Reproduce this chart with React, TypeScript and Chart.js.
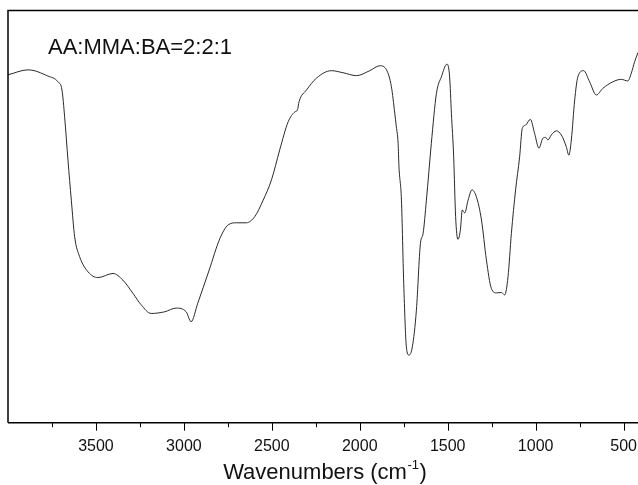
import React, { useEffect, useRef } from 'react';
import { Chart, registerables } from 'chart.js';

Chart.register(...registerables);

const wavenumbers = [
  4000, 3886, 3773, 3716, 3693, 3678, 3659, 3640, 3621, 3593, 3545, 3489, 3403, 3347, 3290, 3243,
  3186, 3110, 3044, 2987, 2959, 2921, 2858, 2795, 2748, 2701, 2644, 2597, 2549, 2502, 2455, 2407,
  2369, 2354, 2345, 2303, 2246, 2161, 2095, 2019, 1943, 1886, 1848, 1820, 1801, 1792, 1782, 1777,
  1763, 1750, 1735, 1720, 1701, 1678, 1655, 1640, 1621, 1593, 1564, 1536, 1504, 1489, 1479, 1466,
  1455, 1442, 1428, 1417, 1403, 1384, 1362, 1337, 1308, 1280, 1252, 1223, 1195, 1176, 1157, 1138,
  1114, 1091, 1076, 1057, 1030, 1006, 981, 959, 943, 930, 911, 882, 854, 826, 811, 797,
  778, 760, 727, 693, 655, 618, 561, 513, 476, 456, 437, 418,
];

const transmittance = [
  84.4, 85.6, 84.1, 82.7, 80.7, 74.2, 63.7, 54.0, 45.1, 40.3, 36.6, 35.2, 36.2, 34.6, 31.4, 28.6,
  26.5, 26.9, 27.8, 26.9, 24.5, 29.0, 36.8, 44.7, 48.0, 48.5, 48.5, 50.0, 54.0, 58.9, 66.2, 73.0,
  75.4, 75.9, 77.9, 80.7, 83.6, 85.4, 84.9, 84.2, 85.4, 86.6, 85.6, 81.5, 75.1, 71.8, 67.8, 62.1,
  54.0, 33.8, 18.4, 16.4, 18.4, 27.3, 43.5, 45.9, 54.0, 67.8, 79.9, 83.9, 87.0, 83.9, 75.1, 64.5,
  50.0, 44.5, 46.7, 51.6, 50.9, 54.0, 56.5, 54.8, 49.2, 39.5, 32.6, 31.5, 31.6, 31.0, 35.4, 45.9,
  56.5, 64.5, 71.4, 72.2, 73.6, 70.2, 66.6, 69.0, 69.2, 68.6, 69.8, 70.8, 69.8, 67.0, 64.9, 68.6,
  78.3, 83.9, 85.4, 82.7, 79.5, 81.1, 82.7, 83.3, 82.9, 84.8, 87.6, 89.8,
];

const majorTicks = [3500, 3000, 2500, 2000, 1500, 1000, 500];
const minorTicks = [3750, 3250, 2750, 2250, 1750, 1250, 750];
const sampleLabel = 'AA:MMA:BA=2:2:1';
const axisTitleMain = 'Wavenumbers (cm';
const axisTitleSup = '-1';
const axisTitleEnd = ')';

const FONT = '"Liberation Sans", Arial, Helvetica, sans-serif';

export default function App() {
  const ref = useRef<HTMLCanvasElement>(null);

  useEffect(() => {
    if (!ref.current) return;

    const framePlugin = {
      id: 'frame',
      afterDraw(chart: any) {
        const { ctx, chartArea: a } = chart;
        const x = chart.scales.x;
        ctx.save();
        ctx.strokeStyle = '#000';
        ctx.lineWidth = 1.5;
        ctx.beginPath();
        ctx.moveTo(a.left, a.bottom);
        ctx.lineTo(a.left, a.top);
        ctx.lineTo(a.right, a.top);
        ctx.moveTo(a.left, a.bottom);
        ctx.lineTo(a.right, a.bottom);
        ctx.stroke();

        ctx.lineWidth = 1;
        ctx.beginPath();
        for (const v of majorTicks) {
          const px = Math.round(x.getPixelForValue(v)) + 0.5;
          ctx.moveTo(px, a.bottom);
          ctx.lineTo(px, a.bottom + 8);
        }
        for (const v of minorTicks) {
          const px = Math.round(x.getPixelForValue(v)) + 0.5;
          ctx.moveTo(px, a.bottom);
          ctx.lineTo(px, a.bottom + 4.5);
        }
        ctx.stroke();

        ctx.fillStyle = '#111';
        ctx.textBaseline = 'alphabetic';
        ctx.textAlign = 'left';
        ctx.font = `22px ${FONT}`;
        ctx.fillText(sampleLabel, 48, 53.5);

        // axis title with superscript
        const mainFont = `22px ${FONT}`;
        const supFont = `13px ${FONT}`;
        ctx.font = mainFont;
        const w1 = ctx.measureText(axisTitleMain).width;
        const w3 = ctx.measureText(axisTitleEnd).width;
        ctx.font = supFont;
        const w2 = ctx.measureText(axisTitleSup).width;
        const total = w1 + w2 + w3 + 1;
        const cx = 325;
        let sx = cx - total / 2;
        const baseY = 479;
        ctx.font = mainFont;
        ctx.fillText(axisTitleMain, sx, baseY);
        sx += w1 + 0.5;
        ctx.font = supFont;
        ctx.fillText(axisTitleSup, sx, baseY - 10);
        sx += w2 + 0.5;
        ctx.font = mainFont;
        ctx.fillText(axisTitleEnd, sx, baseY);
        ctx.restore();
      },
    };

    const chart = new Chart(ref.current, {
      type: 'line',
      data: {
        datasets: [
          {
            data: wavenumbers.map((w, i) => ({ x: w, y: transmittance[i] })),
            borderColor: '#2a2a2a',
            borderWidth: 1,
            pointRadius: 0,
            fill: false,
            cubicInterpolationMode: 'monotone',
          },
        ],
      },
      options: {
        responsive: false,
        animation: false,
        devicePixelRatio: 1,
        layout: { padding: { left: 8, top: 10.5, right: 0, bottom: 0 } },
        plugins: { legend: { display: false }, tooltip: { enabled: false }, title: { display: false } },
        scales: {
          x: {
            type: 'linear',
            reverse: true,
            min: 418,
            max: 4000,
            grid: { display: false, drawTicks: false },
            border: { display: false },
            afterBuildTicks: (scale: any) => {
              scale.ticks = majorTicks.map((v) => ({ value: v }));
            },
            afterFit: (scale: any) => {
              scale.height = 62.3;
              scale.paddingLeft = 0;
              scale.paddingRight = 0;
            },
            ticks: {
              autoSkip: false,
              maxRotation: 0,
              padding: 14,
              color: '#111',
              font: { family: FONT, size: 16 },
              callback: (v: any) => String(v),
            },
          },
          y: {
            display: false,
            min: 0,
            max: 100,
          },
        },
      },
      plugins: [framePlugin],
    });

    return () => chart.destroy();
  }, []);

  return (
    <div style={{ position: 'fixed', left: 0, top: 0, width: 638, height: 485, background: '#fff' }}>
      <canvas ref={ref} width={638} height={485} style={{ display: 'block', width: 638, height: 485 }} />
    </div>
  );
}
